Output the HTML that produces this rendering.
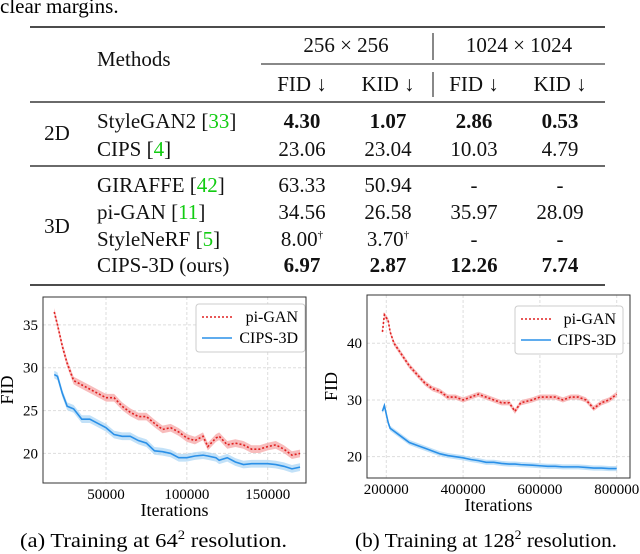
<!DOCTYPE html>
<html><head><meta charset="utf-8"><style>
body{margin:0;background:#fff;width:640px;height:554px;overflow:hidden;font-family:"Liberation Serif",serif;}
svg{position:absolute;left:0;top:0}
</style></head><body>
<svg width="640" height="554" font-family="Liberation Serif, serif">
<text x="0" y="13" font-size="21">clear margins.</text>
<g font-size="21" fill="#111">
<line x1="30" x2="605" y1="27" y2="27" stroke="#111" stroke-width="1.6"/>
<text x="97" y="66">Methods</text>
<text x="346" y="52" text-anchor="middle">256 × 256</text>
<text x="519" y="52" text-anchor="middle">1024 × 1024</text>
<line x1="433" x2="433" y1="33" y2="60" stroke="#111"/>
<line x1="261" x2="605" y1="64" y2="64" stroke="#111"/>
<line x1="433" x2="433" y1="72" y2="97" stroke="#111"/>
<text x="302" y="91" text-anchor="middle">FID ↓</text>
<text x="388" y="91" text-anchor="middle">KID ↓</text>
<text x="474" y="91" text-anchor="middle">FID ↓</text>
<text x="560" y="91" text-anchor="middle">KID ↓</text>
<line x1="30" x2="605" y1="102" y2="102" stroke="#111" stroke-width="1.2"/>
<text x="57" y="140" text-anchor="middle">2D</text>
<text x="97" y="128">StyleGAN2 [<tspan fill="#1c1">33</tspan>]</text>
<text x="97" y="156">CIPS [<tspan fill="#1c1">4</tspan>]</text>
<g text-anchor="middle">
<text x="302" y="128" font-weight="bold">4.30</text><text x="388" y="128" font-weight="bold">1.07</text><text x="474" y="128" font-weight="bold">2.86</text><text x="560" y="128" font-weight="bold">0.53</text>
<text x="302" y="156">23.06</text><text x="388" y="156">23.04</text><text x="474" y="156">10.03</text><text x="560" y="156">4.79</text>
</g>
<line x1="30" x2="605" y1="166" y2="166" stroke="#111" stroke-width="1.2"/>
<text x="57" y="233" text-anchor="middle">3D</text>
<text x="97" y="192">GIRAFFE [<tspan fill="#1c1">42</tspan>]</text>
<text x="97" y="219">pi-GAN [<tspan fill="#1c1">11</tspan>]</text>
<text x="97" y="246">StyleNeRF [<tspan fill="#1c1">5</tspan>]</text>
<text x="97" y="272">CIPS-3D (ours)</text>
<g text-anchor="middle">
<text x="302" y="192">63.33</text><text x="388" y="192">50.94</text><text x="474" y="192">-</text><text x="560" y="192">-</text>
<text x="302" y="219">34.56</text><text x="388" y="219">26.58</text><text x="474" y="219">35.97</text><text x="560" y="219">28.09</text>
<text x="302" y="246">8.00<tspan font-size="11" dy="-8">†</tspan></text><text x="388" y="246">3.70<tspan font-size="11" dy="-8">†</tspan></text><text x="474" y="246">-</text><text x="560" y="246">-</text>
<text x="302" y="272" font-weight="bold">6.97</text><text x="388" y="272" font-weight="bold">2.87</text><text x="474" y="272" font-weight="bold">12.26</text><text x="560" y="272" font-weight="bold">7.74</text>
</g>
<line x1="30" x2="605" y1="285" y2="285" stroke="#111" stroke-width="1.6"/>
</g>
<g id="c1"></g>
<g id="c2"></g>
<text x="20" y="547" font-size="20" textLength="267" lengthAdjust="spacingAndGlyphs">(a) Training at 64<tspan font-size="13" dy="-8">2</tspan><tspan dy="8"> resolution.</tspan></text>
<text x="355" y="547" font-size="20" textLength="262" lengthAdjust="spacingAndGlyphs">(b) Training at 128<tspan font-size="13" dy="-8">2</tspan><tspan dy="8"> resolution.</tspan></text>
</svg>
<script>
const c1Iters=[18000,20000,23000,26000,30000,35000,40000,45000,50000,55000,60000,65000,70000,75000,80000,85000,90000,95000,100000,105000,110000,113000,118000,120000,125000,130000,135000,140000,145000,150000,155000,160000,165000,170000];
const c1PiGAN=[36.5,35,32.5,30.5,28.5,28,27.5,27,26.5,26.5,25.5,24.8,24.3,24.3,23.5,22.8,23,22.5,21.8,21.5,22,20.8,21.8,22,21,21.2,21,20.5,20.5,20.8,21,20.5,19.8,20];
const c1Cips=[29.2,29,27,25.5,25.2,24,24,23.5,23,22.2,22,22,21.5,21.2,20.3,20.2,20,19.5,19.5,19.7,19.8,19.7,19.5,19.2,19.5,19,18.7,18.8,18.8,18.8,18.7,18.5,18.2,18.4];
const c1XTicks=[50000,100000,150000];
const c1YTicks=[20,25,30,35];
const c2Iters=[190000,195000,205000,210000,220000,240000,260000,280000,300000,320000,340000,360000,380000,400000,420000,440000,460000,480000,500000,520000,535000,550000,580000,600000,620000,640000,660000,680000,700000,720000,740000,760000,780000,800000];
const c2PiGAN=[42,45,44,42,40,38,36,34.5,33,32,31.5,30.5,30.5,30,30.5,31,30.5,30,29.5,29.5,28,29.5,30,30.5,30.5,30.5,30,30.5,30.5,30,28.5,29.5,30,31];
const c2Cips=[28,29,26,25,24.5,23.5,22.5,22,21.5,21,20.5,20.2,20,19.8,19.5,19.3,19,19,18.8,18.7,18.7,18.6,18.5,18.4,18.3,18.3,18.2,18.2,18.2,18.1,18,18,17.9,17.9];
const c2XTicks=[200000,400000,600000,800000];
const c2YTicks=[20,30,40];
const NS='http://www.w3.org/2000/svg';
function mk(p,t,a){const e=document.createElementNS(NS,t);for(const k in a)e.setAttribute(k,a[k]);p.appendChild(e);return e;}
function draw(g,box,xd,yd,xs,ys,xt,yt,lg){
 const X=v=>box.l+(v-xd[0])/(xd[1]-xd[0])*(box.r-box.l);
 const Y=v=>box.b-(v-yd[0])/(yd[1]-yd[0])*(box.b-box.t);
 xt.forEach(v=>{const l=mk(g,'line',{x1:X(v),x2:X(v),y1:box.t,y2:box.b,stroke:'#ddd','stroke-dasharray':'3,2'});
  
  const t=mk(g,'text',{x:X(v),y:box.b+16,'font-size':15,'text-anchor':'middle'});t.textContent=v;
  });
 yt.forEach(v=>{const l=mk(g,'line',{x1:box.l,x2:box.r,y1:Y(v),y2:Y(v),stroke:'#ddd','stroke-dasharray':'3,2'});
  
  const t=mk(g,'text',{x:box.l-5,y:Y(v)+5,'font-size':15,'text-anchor':'end'});t.textContent=v;
  });
 [[ys[0],'#f5a0a0','#e02020','2,2','pigan'],[ys[1],'#a8d4f5','#2a90e8','','cips']].forEach(([vals,bc,lc,da,nm])=>{
  const up=xs.map((x,i)=>X(x)+','+Y(vals[i]+0.45)).join(' ');
  const dn=xs.map((x,i)=>X(x)+','+Y(vals[i]-0.45)).reverse().join(' ');
  const b=mk(g,'polygon',{points:up+' '+dn,fill:bc,opacity:0.7});
  
  const p=mk(g,'polyline',{points:xs.map((x,i)=>X(x)+','+Y(vals[i])).join(' '),fill:'none',stroke:lc,'stroke-width':1.6,'stroke-dasharray':da});
  });
 const fr=mk(g,'rect',{x:box.l,y:box.t,width:box.r-box.l,height:box.b-box.t,fill:'none',stroke:'#333'});
 
 const xl=mk(g,'text',{x:(box.l+box.r)/2,y:box.b+33,'font-size':18,'text-anchor':'middle'});xl.textContent='Iterations';
 
 const cy=(box.t+box.b)/2,cx=box.l-30;
 const yl=mk(g,'text',{x:cx,y:cy,'font-size':18,'text-anchor':'middle',transform:`rotate(-90 ${cx} ${cy})`});yl.textContent='FID';
 
 const L=mk(g,'g',{});
 mk(L,'rect',{x:lg.x,y:lg.y,width:lg.w,height:lg.h,rx:3,fill:'#fff',stroke:'#ccc'});
 mk(L,'line',{x1:lg.x+6,x2:lg.x+36,y1:lg.y+13,y2:lg.y+13,stroke:'#e02020','stroke-width':1.6,'stroke-dasharray':'2,2'});
 mk(L,'line',{x1:lg.x+6,x2:lg.x+36,y1:lg.y+34,y2:lg.y+34,stroke:'#2a90e8','stroke-width':1.6});
 const a=mk(L,'text',{x:lg.x+lg.w-7,y:lg.y+18,'font-size':16,'text-anchor':'end'});a.textContent='pi-GAN';
 
 const c=mk(L,'text',{x:lg.x+lg.w-7,y:lg.y+39,'font-size':16,'text-anchor':'end'});c.textContent='CIPS-3D';
 
}
draw(document.getElementById('c1'),{l:43,r:306,t:297,b:483},[11040,173690],[16.55,38.25],c1Iters,[c1PiGAN,c1Cips],c1XTicks,c1YTicks,{x:196,y:304,w:109,h:48});
draw(document.getElementById('c2'),{l:367,r:630,t:295,b:478},[149800,834600],[16.24,48.5],c2Iters,[c2PiGAN,c2Cips],c2XTicks,c2YTicks,{x:515,y:306,w:108,h:48});
</script>
</body></html>
